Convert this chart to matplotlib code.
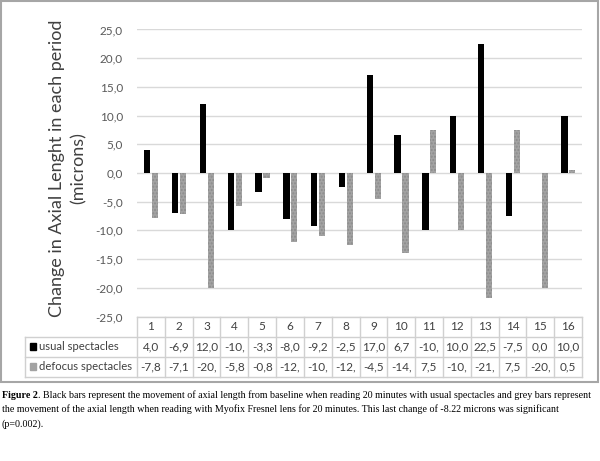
import numpy as np
import matplotlib
matplotlib.use('Agg')
from matplotlib import pyplot as plt
from matplotlib.patches import Rectangle

# data
periods = list(range(1, 17))
usual = [4.0, -6.9, 12.0, -10.0, -3.3, -8.0, -9.2, -2.5, 17.0, 6.7, -10.0, 10.0, 22.5, -7.5, 0.0, 10.0]
defocus = [-7.8, -7.1, -20.0, -5.8, -0.8, -12.0, -10.9, -12.5, -4.5, -14.0, 7.5, -10.0, -21.7, 7.5, -20.0, 0.5]
series_names = ['usual spectacles', 'defocus spectacles']
yticks = [-25, -20, -15, -10, -5, 0, 5, 10, 15, 20, 25]
ylabel = 'Change in Axial Lenght in each period\n(microns)'
caption_bold = 'Figure 2'
caption_lines = [
    '. Black bars represent the movement of axial length from baseline when reading 20 minutes with usual spectacles and grey bars represent',
    'the movement of the axial length when reading with Myofix Fresnel lens for 20 minutes. This last change of -8.22 microns was significant',
    '(p=0.002).',
]

def fmt(v):
    # excel-like comma decimals, cut to the cell width
    return ('%.1f' % v).replace('.', ',')

W, H = 600, 461
fig = plt.figure(figsize=(W / 100, H / 100), dpi=100)
sans = ['Lato', 'DejaVu Sans']
txt_col = '#595959'
grid_col = '#d9d9d9'

x = np.array(periods)
ax = fig.add_axes([137 / W, 1 - 316.5 / H, 445 / W, 287 / H])
ax.bar(x - 0.13, usual, width=0.23, color='black', zorder=3)
ax.bar(x + 0.155, defocus, width=0.22, color='#a3a3a3', hatch='.....', edgecolor='#8c8c8c', linewidth=0, zorder=3)
ax.set_xlim(0.5, 16.5)
ax.set_ylim(-25, 25)
ax.set_yticks(yticks)
ax.set_yticklabels([fmt(v) for v in yticks], family=sans, fontsize=8.5, color=txt_col)
ax.set_xticks([])
ax.tick_params(axis='y', length=0, pad=10)
ax.yaxis.grid(True, color=grid_col, lw=1)
ax.set_axisbelow(True)
for s in ax.spines.values():
    s.set_visible(False)
fig.text(68 / W, 1 - 168 / H, ylabel, rotation=90, ha='center', va='center',
         family=sans, fontsize=13, color='#404040', linespacing=1.4, multialignment='center')

# data table under the plot
col_w = 445 / 16
x_left = 0.5 - (137 - 25) / col_w
tab = fig.add_axes([137 / W, 1 - 377 / H, 445 / W, 60.5 / H])
tab.set_xlim(0.5, 16.5)
tab.set_ylim(0, 3)
tab.axis('off')
lc = '#d0d0d0'
tab.plot([0.5, 16.5], [3, 3], color=lc, lw=1, clip_on=False)
for yy in [0, 1, 2]:
    tab.plot([x_left, 16.5], [yy, yy], color=lc, lw=1, clip_on=False)
for i in range(17):
    tab.plot([0.5 + i, 0.5 + i], [0, 3], color=lc, lw=1, clip_on=False)
tab.plot([x_left, x_left], [0, 2], color=lc, lw=1, clip_on=False)
for i, p in enumerate(periods):
    tab.text(p, 2.5, str(p), ha='center', va='center', family=sans, fontsize=8.5, color='#404040')
    tab.text(p, 1.5, fmt(usual[i])[:4], ha='center', va='center', family=sans, fontsize=8.5, color='#404040')
    tab.text(p, 0.5, fmt(defocus[i])[:4], ha='center', va='center', family=sans, fontsize=8.5, color='#404040')
for row, name, col in [(1.5, series_names[0], 'black'), (0.5, series_names[1], '#a3a3a3')]:
    tab.add_patch(Rectangle((x_left + 0.18, row - 0.17), 0.22, 0.34, color=col, clip_on=False))
    tab.text(x_left + 0.5, row, name, ha='left', va='center', family=sans, fontsize=8.1, color='#404040')

# grey frame around chart
fig.patches.append(Rectangle((1 / W, 1 - 382 / H), 597 / W, 381 / H, transform=fig.transFigure,
                             fill=False, ec='#a6a6a6', lw=1.5))

# caption
serif = ['Liberation Serif', 'DejaVu Serif']
cs = 7.2
fig.canvas.draw()
r = fig.canvas.get_renderer()
t = fig.text(2 / W, 1 - 395 / H, caption_bold, family=serif, fontweight='bold', fontsize=cs, va='center', color='black')
bb = t.get_window_extent(renderer=r)
fig.text(bb.x1 / W, 1 - 395 / H, caption_lines[0], family=serif, fontsize=cs, va='center', color='black')
for k, line in enumerate(caption_lines[1:]):
    fig.text(2 / W, 1 - (409.5 + 14.5 * k) / H, line, family=serif, fontsize=cs, va='center', color='black')

fig.savefig('out.png', dpi=100)
